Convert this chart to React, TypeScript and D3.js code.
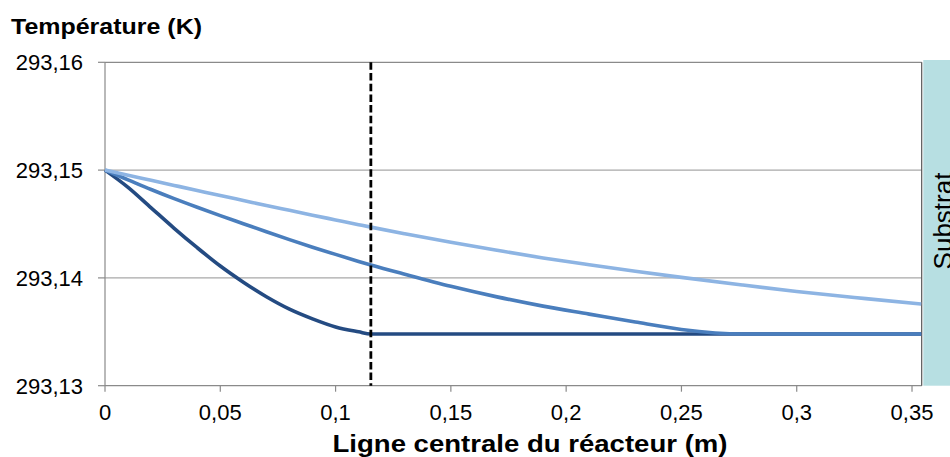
import React from "react";
import * as d3 from "d3";

const xPositions = [0, 0.01, 0.02, 0.03, 0.04, 0.05, 0.06, 0.07, 0.08, 0.09, 0.1, 0.11, 0.1153, 0.13, 0.15, 0.17, 0.19, 0.21, 0.23, 0.25, 0.2764, 0.3, 0.33, 0.354];

const darkSeries = [293.15, 293.1484, 293.1465, 293.1446, 293.1428, 293.1411, 293.1396, 293.13825, 293.1371, 293.1362, 293.13545, 293.135, 293.1348, 293.1348, 293.1348, 293.1348, 293.1348, 293.1348, 293.1348, 293.1348, 293.1348, 293.1348, 293.1348, 293.1348];
const mediumSeries = [293.15, 293.1491, 293.1482, 293.14735, 293.14655, 293.14578, 293.14503, 293.14428, 293.14355, 293.14285, 293.14218, 293.14153, 293.1412, 293.14034, 293.13922, 293.13824, 293.13738, 293.13664, 293.1359, 293.13522, 293.1348, 293.1348, 293.1348, 293.1348];
const lightSeries = [293.15, 293.14952, 293.14905, 293.14858, 293.14811, 293.14764, 293.14718, 293.14672, 293.14627, 293.14582, 293.14538, 293.14494, 293.14471, 293.1441, 293.1433, 293.14256, 293.14185, 293.14122, 293.14062, 293.14005, 293.13934, 293.13874, 293.13808, 293.13758];

const xTicks = [0, 0.05, 0.1, 0.15, 0.2, 0.25, 0.3, 0.35];
const yTicks = [293.13, 293.14, 293.15, 293.16];
const boundaryX = 0.1153;

const yTitle = "Température (K)";
const xTitle = "Ligne centrale du réacteur (m)";
const bandLabel = "Substrat";

const FONT = "'Liberation Sans', Arial, sans-serif";

const fmt = (v: number, digits: number) =>
  String(parseFloat(v.toFixed(digits))).replace(".", ",");

export default function App() {
  const x = d3.scaleLinear().domain([0, 0.3542]).range([105, 921.7]);
  const y = d3.scaleLinear().domain([293.13, 293.16]).range([385.7, 62.3]);
  const [x0, x1] = x.range();
  const [yb, yt] = y.range();

  const line = d3
    .line<[number, number]>()
    .x((d) => x(d[0]))
    .y((d) => y(d[1]))
    .curve(d3.curveMonotoneX);

  const series = [
    { values: darkSeries, color: "#244b82" },
    { values: mediumSeries, color: "#4a7ebd" },
    { values: lightSeries, color: "#8db4e3" },
  ];

  const axisColor = "#8a8a8a";
  const gridColor = "#a8a8a8";

  return (
    <div style={{ position: "absolute", left: 0, top: 0 }}>
      <svg width={950} height={457} style={{ display: "block" }}>
        <rect x={0} y={0} width={950} height={457} fill="#ffffff" />
        {/* substrate band */}
        <rect x={923.3} y={60} width={40} height={yb - 60} fill="#b7dfe2" />
        <text
          transform={`translate(952, 221) rotate(-90)`}
          textAnchor="middle"
          fontFamily={FONT}
          fontSize={26}
          fill="#000"
        >
          {bandLabel}
        </text>

        {/* gridlines */}
        {yTicks.map((t) => (
          <line key={"g" + t} x1={x0} x2={x1} y1={y(t)} y2={y(t)} stroke={t === 293.13 || t === 293.16 ? axisColor : gridColor} strokeWidth={1.2} />
        ))}
        {/* y axis line + ticks */}
        <line x1={x0} x2={x0} y1={yt} y2={yb} stroke={axisColor} strokeWidth={1.2} />
        <line x1={x1} x2={x1} y1={yt} y2={yb} stroke="#555" strokeWidth={1.2} />
        {yTicks.map((t) => (
          <g key={"yt" + t}>
            <line x1={x0 - 7} x2={x0} y1={y(t)} y2={y(t)} stroke={axisColor} strokeWidth={1.2} />
            <text x={83} y={y(t) + 8} textAnchor="end" fontFamily={FONT} fontSize={22} fill="#000">
              {fmt(t, 2)}
            </text>
          </g>
        ))}
        {/* x ticks */}
        {xTicks.map((t) => (
          <g key={"xt" + t}>
            <line x1={x(t)} x2={x(t)} y1={yb} y2={yb + 6} stroke={axisColor} strokeWidth={1.2} />
            <text x={x(t)} y={420} textAnchor="middle" fontFamily={FONT} fontSize={22} fill="#000">
              {fmt(t, 2)}
            </text>
          </g>
        ))}

        {/* series */}
        {series.map((s, i) => (
          <path
            key={i}
            d={line(xPositions.map((xv, j) => [xv, s.values[j]] as [number, number])) || ""}
            fill="none"
            stroke={s.color}
            strokeWidth={3.6}
            strokeLinejoin="round"
          />
        ))}

        {/* boundary dashed line */}
        <line
          x1={x(boundaryX)}
          x2={x(boundaryX)}
          y1={yt}
          y2={yb}
          stroke="#000"
          strokeWidth={2.8}
          strokeDasharray="7.5,3.2"
        />

        {/* titles */}
        <text x={11} y={34} fontFamily={FONT} fontSize={22} fontWeight="bold" fill="#000" textLength={191} lengthAdjust="spacingAndGlyphs">
          {yTitle}
        </text>
        <text x={530} y={452} textAnchor="middle" fontFamily={FONT} fontSize={24} fontWeight="bold" fill="#000" textLength={395} lengthAdjust="spacingAndGlyphs">
          {xTitle}
        </text>
      </svg>
    </div>
  );
}
